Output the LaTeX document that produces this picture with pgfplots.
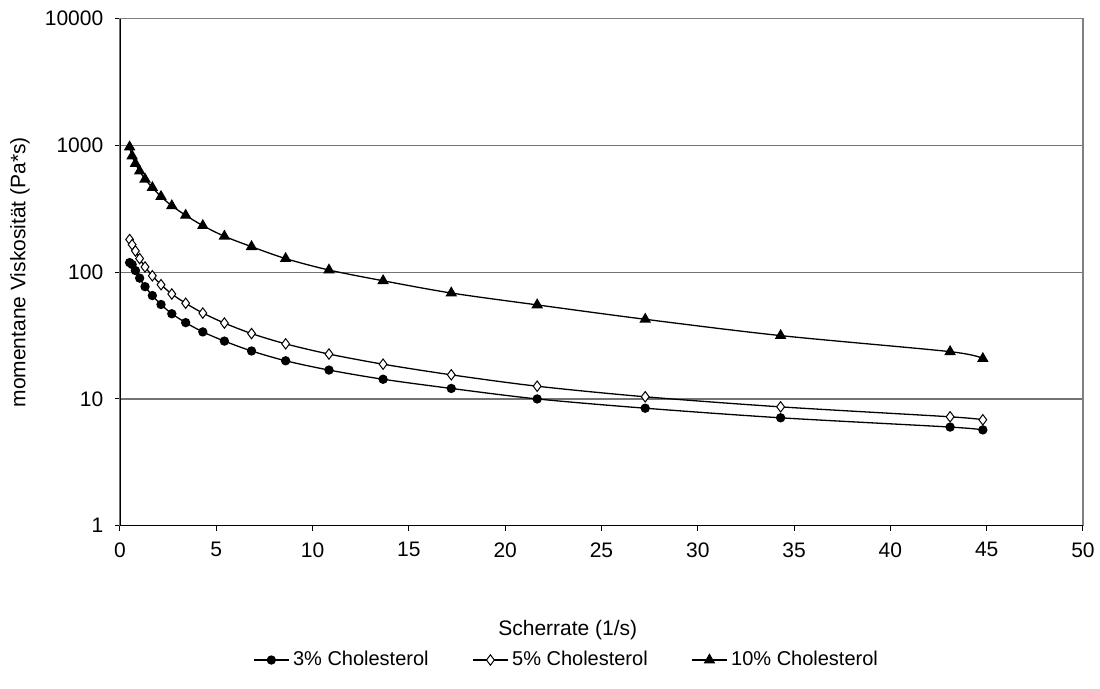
\documentclass[border=0pt]{standalone}
\usepackage{pgfplots}
\pgfplotsset{compat=1.18}
\usepackage{fontspec}
\setmainfont{Liberation Sans}
\begin{document}
\fontsize{11pt}{13pt}\selectfont
\begin{tikzpicture}
\begin{semilogyaxis}[
  name=ax, at={(0,0)}, anchor=south west,
  scale only axis, width=481.5pt, height=253.5pt,
  xmin=0, xmax=50, ymin=1, ymax=10000,
  xtick={0,5,...,50},
  ytick={1,10,100,1000,10000},
  yticklabels={1,10,100,1000,10000},
  log basis y=10,
  minor ytick={}, minor xtick={},
  yminorticks=false,
  tick pos=left, tick align=outside,
  major tick length=2.5pt,
  tick style={black, line width=0.5pt},
  axis line style={gray, line width=0.7pt},
  ymajorgrids, grid style={gray!90!black, line width=0.6pt},
  /pgf/number format/assume math mode=true,
  ticklabel style={font=\fontsize{10.5pt}{12pt}\selectfont},
  xticklabel style={yshift=-2pt},
  yticklabel style={xshift=-2pt},
  xlabel={Scherrate (1/s)},
  xlabel style={at={(axis description cs:0.465,-0.205)}, anchor=center, font=\fontsize{10.5pt}{12pt}\selectfont},
  ylabel={momentane Viskosität (Pa*s)},
  ylabel style={at={(axis description cs:-0.104,0.5)}, anchor=center, rotate=0, font=\fontsize{10.5pt}{12pt}\selectfont},
  legend columns=3,
  legend style={draw=none, fill=none, at={(axis description cs:0.465,-0.265)}, anchor=center,
    font=\fontsize{10pt}{12pt}\selectfont,
    /tikz/every even column/.append style={column sep=20pt}},
  legend image code/.code={\draw[mark repeat=2,mark phase=2] plot coordinates {(0cm,0cm) (0.3cm,0cm) (0.6cm,0cm)};},
  every axis plot/.append style={black, line width=0.65pt, smooth, tension=0.5},
]
\addplot[mark=*, mark size=2pt, mark options={solid, fill=black}] coordinates {
(0.5,119) (0.63,115) (0.8,103) (1.02,89.8) (1.3,76.9) (1.68,65.4) (2.13,55.6) (2.69,47) (3.41,40) (4.3,33.8) (5.42,28.6) (6.83,23.9) (8.6,20.0) (10.85,16.9) (13.66,14.3) (17.2,12.1) (21.66,10.0) (27.27,8.45) (34.3,7.1) (43.1,6.0) (44.8,5.7)
};
\addlegendentry{3\% Cholesterol}
\addplot[mark=diamond*, mark size=2.6pt, mark options={solid, fill=white, line width=0.5pt}] coordinates {
(0.5,181) (0.63,165) (0.8,147) (1.02,128) (1.3,110) (1.68,93.7) (2.13,79.7) (2.69,67.3) (3.41,56.9) (4.3,47.6) (5.42,39.7) (6.83,32.8) (8.6,27.2) (10.85,22.6) (13.66,18.8) (17.2,15.5) (21.66,12.6) (27.27,10.4) (34.3,8.66) (43.1,7.23) (44.8,6.85)
};
\addlegendentry{5\% Cholesterol}
\addplot[mark=triangle*, mark size=2.7pt, mark options={solid, fill=black}] coordinates {
(0.5,972) (0.63,826) (0.8,719) (1.02,627) (1.3,542) (1.68,465) (2.13,395) (2.69,334) (3.41,281) (4.3,233) (5.42,192) (6.83,159) (8.6,128) (10.85,104) (13.66,85.6) (17.2,68.5) (21.66,55.2) (27.27,42.5) (34.3,31.6) (43.1,23.6) (44.8,20.8)
};
\addlegendentry{10\% Cholesterol}
\draw[black, line width=0.7pt] (rel axis cs:0,1) -- (rel axis cs:0,0) -- (rel axis cs:1,0);
\end{semilogyaxis}
\pgfresetboundingbox
\path[use as bounding box] (-60pt,-81.5pt) rectangle (490pt,262.85pt);
\end{tikzpicture}
\end{document}
